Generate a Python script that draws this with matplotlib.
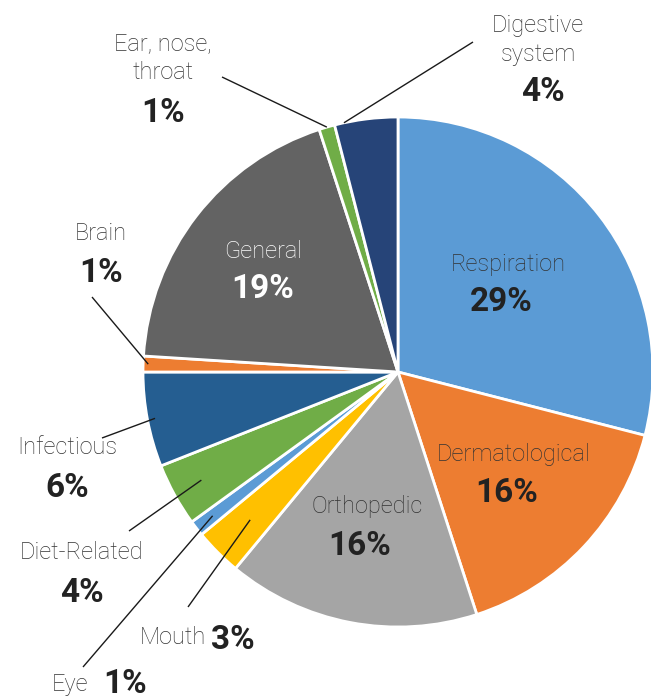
import matplotlib
matplotlib.use("Agg")
import matplotlib.pyplot as plt
import numpy as np

plt.rcParams['font.family'] = ['Roboto', 'DejaVu Sans']

categories = ["Respiration", "Dermatological", "Orthopedic", "Mouth", "Eye",
              "Diet-Related", "Infectious", "Brain", "General",
              "Ear, nose,\nthroat", "Digestive\nsystem"]
values = [29, 16, 16, 3, 1, 4, 6, 1, 19, 1, 4]
colors = ["#5B9BD5", "#ED7D31", "#A5A5A5", "#FFC000", "#5B9BD5",
          "#70AD47", "#255E91", "#ED7D31", "#636363", "#70AD47", "#264478"]

W, H = 651, 699
fig = plt.figure(figsize=(W / 100, H / 100), dpi=100)
ax = fig.add_axes([0, 0, 1, 1])

cx, cy, R = 398, H - 372, 255
wedges, _ = ax.pie(values, colors=colors, startangle=90, counterclock=False,
                   center=(cx, cy), radius=R,
                   wedgeprops=dict(edgecolor="white", linewidth=2))
ax.set_xlim(0, W)
ax.set_ylim(0, H)
ax.set_aspect("equal")
ax.axis("off")

NAME_FS, PCT_FS = 17, 24
name_c, pct_c = "#333333", "#222222"

# layout: (name position, pct position, color) in pixel coords (y from top)
layout = {
    "Respiration": ((508, 264), (501, 302), None),
    "Dermatological": ((514, 454), (507, 493), None),
    "Orthopedic": ((367, 507), (360, 546), None),
    "General": ((263, 252), (263, 289), "white"),
    "Digestive\nsystem": ((538, 40), (543, 92), None),
    "Ear, nose,\nthroat": ((163, 58), (163, 113), None),
    "Brain": ((101, 233), (101, 273), None),
    "Infectious": ((67, 447), (67, 488), None),
    "Diet-Related": ((82, 552), (82, 593), None),
}
inline = {
    "Mouth": ((173, 637), (211, 640)),
    "Eye": ((70, 684), (103, 684)),
}

# leader lines: radius fraction of start inside wedge, text-side end point
leaders = {
    "Digestive\nsystem": (1.0, 0.85, (473, 42)),
    "Ear, nose,\nthroat": (1.0, 0.5, (222, 77)),
    "Brain": (0.98, 0.5, (92, 297)),
    "Infectious": (0.97, 0.5, (102, 438)),
    "Diet-Related": (0.88, 0.5, (129, 531)),
    "Eye": (0.92, 0.5, (83, 667)),
    "Mouth": (0.82, 0.5, (188, 607)),
}

for w, cat, v in zip(wedges, categories, values):
    pct = f"{v}%"
    if cat in layout:
        (nx, ny), (px, py), col = layout[cat]
        ax.text(nx, H - ny, cat, ha="center", va="center", fontsize=NAME_FS,
                fontweight="light", color=col or name_c, linespacing=1.35)
        ax.text(px, H - py, pct, ha="center", va="center", fontsize=PCT_FS,
                fontweight="bold", color=col or pct_c)
    if cat in inline:
        (nx, ny), (px, py) = inline[cat]
        ax.text(nx, H - ny, cat, ha="center", va="center", fontsize=NAME_FS,
                fontweight="light", color=name_c)
        ax.text(px, H - py, pct, ha="left", va="center", fontsize=PCT_FS,
                fontweight="bold", color=pct_c)
    if cat in leaders:
        rf, frac, (ex, ey) = leaders[cat]
        ang = np.deg2rad(w.theta1 + (w.theta2 - w.theta1) * frac)
        sx = cx + R * rf * np.cos(ang)
        sy = cy + R * rf * np.sin(ang)
        ax.plot([sx, ex], [sy, H - ey], color="#1a1a1a", linewidth=1.0,
                solid_capstyle="butt", zorder=5)

fig.savefig("out.png", dpi=100)
